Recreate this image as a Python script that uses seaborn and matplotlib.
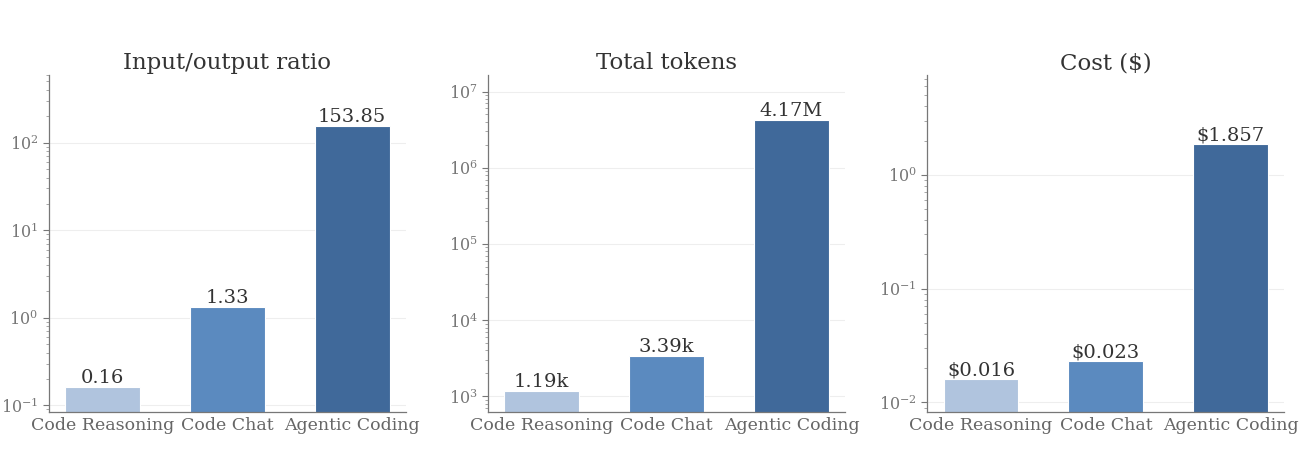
import pandas as pd
import numpy as np
import matplotlib
matplotlib.use("Agg")
import matplotlib.pyplot as plt
import seaborn as sns

# data
categories = ["Code Reasoning", "Code Chat", "Agentic Coding"]
io_ratio = [0.16, 1.33, 153.85]
total_tokens = [1190, 3390, 4170000]
cost = [0.016, 0.023, 1.857]

io_labels = ["0.16", "1.33", "153.85"]
token_labels = ["1.19k", "3.39k", "4.17M"]
cost_labels = ["$0.016", "$0.023", "$1.857"]

titles = ["Input/output ratio", "Total tokens", "Cost ($)"]
colors = ["#b0c4de", "#5b8abf", "#40699a"]

sns.set_style("ticks")
plt.rcParams["font.family"] = ["DejaVu Serif"]
plt.rcParams["mathtext.fontset"] = "dejavuserif"

fig, axes = plt.subplots(1, 3, figsize=(13.16, 4.66), dpi=100)
fig.subplots_adjust(left=0.037, right=0.976, top=0.84, bottom=0.115, wspace=0.23)

panels = [
    (io_ratio, io_labels, (0.083, 600)),
    (total_tokens, token_labels, (616, 1.67e7)),
    (cost, cost_labels, (0.00817, 7.6)),
]

for ax, title, (vals, labs, ylim) in zip(axes, titles, panels):
    df = pd.DataFrame({"cat": categories, "val": vals})
    sns.barplot(data=df, x="cat", y="val", hue="cat", palette=colors,
                width=0.6, edgecolor="white", linewidth=0.8, saturation=1,
                legend=False, ax=ax)
    ax.set_yscale("log")
    ax.set_ylim(*ylim)
    ax.set_xlim(-0.43, 2.43)
    for p, lab in zip(ax.patches, labs):
        ax.text(p.get_x() + p.get_width() / 2, p.get_height(), lab,
                ha="center", va="bottom", fontsize=14, color="#333333")
    ax.set_title(title, fontsize=16.5, color="#333333", pad=4)
    ax.set_xlabel("")
    ax.set_ylabel("")
    ax.yaxis.grid(True, which="major", color="#eeeeee", linewidth=0.8)
    ax.set_axisbelow(True)
    ax.tick_params(axis="x", labelsize=12.5, colors="#666666", length=0, pad=3)
    ax.tick_params(axis="y", labelsize=11.5, colors="#777777", which="both")
    ax.tick_params(axis="y", which="major", length=4, color="#777777")
    ax.tick_params(axis="y", which="minor", length=2, color="#999999")
    for s in ["left", "bottom"]:
        ax.spines[s].set_color("#777777")
        ax.spines[s].set_linewidth(0.9)
    sns.despine(ax=ax)

plt.savefig("out.png", dpi=100)
